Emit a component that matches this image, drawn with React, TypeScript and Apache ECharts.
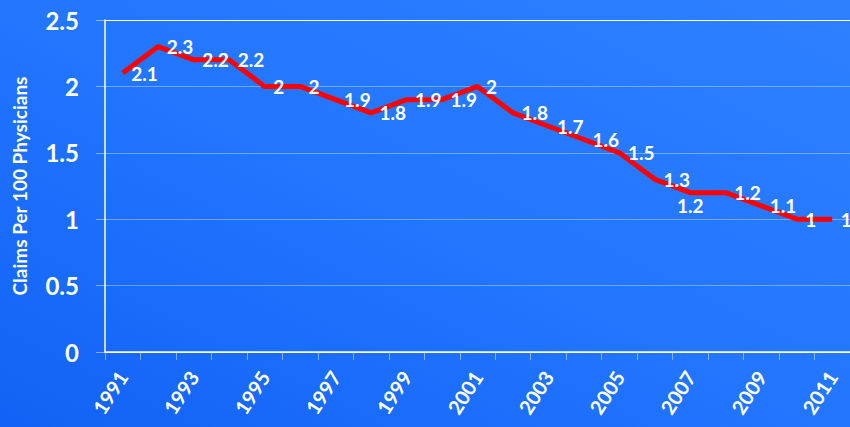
import React, { useEffect, useRef } from "react";
import * as echarts from "echarts";

const years: string[] = [
  "1991", "1992", "1993", "1994", "1995", "1996", "1997", "1998", "1999", "2000",
  "2001", "2002", "2003", "2004", "2005", "2006", "2007", "2008", "2009", "2010", "2011",
];
const claims: number[] = [
  2.1, 2.3, 2.2, 2.2, 2.0, 2.0, 1.9, 1.8, 1.9, 1.9,
  2.0, 1.8, 1.7, 1.6, 1.5, 1.3, 1.2, 1.2, 1.1, 1.0, 1.0,
];
const yAxisTitle = "Claims Per 100 Physicians";

const FONT = "Lato, 'DejaVu Sans', sans-serif";

export default function App() {
  const ref = useRef<HTMLDivElement>(null);
  useEffect(() => {
    if (!ref.current) return;
    const chart = echarts.init(ref.current, null, { renderer: "svg" });
    const data = claims.map((v, i) => {
      if (years[i] === "2007") {
        return { value: v, label: { position: "bottom", distance: 3, offset: [10, 0] } };
      }
      return v;
    });
    chart.setOption({
      animation: false,
      backgroundColor: new echarts.graphic.LinearGradient(0, 1, 1, 0, [
        { offset: 0, color: "#1262f5" },
        { offset: 0.5, color: "#2276ff" },
        { offset: 1, color: "#2e80ff" },
      ]),
      grid: { left: 105, top: 20, bottom: 75, right: -5, containLabel: false },
      xAxis: {
        type: "category",
        data: years,
        boundaryGap: true,
        axisLine: { show: true, lineStyle: { color: "#ffffff", width: 1.5 } },
        axisTick: {
          show: true,
          length: 8,
          alignWithLabel: false,
          interval: 0,
          lineStyle: { color: "rgba(255,255,255,0.45)" },
        },
        axisLabel: {
          interval: 1,
          rotate: 57,
          color: "#ffffff",
          fontFamily: FONT,
          fontWeight: "bold",
          fontSize: 20,
          margin: 21,
        },
      },
      yAxis: {
        type: "value",
        min: 0,
        max: 2.5,
        interval: 0.5,
        name: yAxisTitle,
        nameLocation: "middle",
        nameGap: 76,
        nameTextStyle: {
          color: "#ffffff",
          fontFamily: FONT,
          fontWeight: "bold",
          fontSize: 19,
        },
        axisLine: { show: true, lineStyle: { color: "#ffffff", width: 1.5 } },
        axisTick: { show: true, length: 9, lineStyle: { color: "rgba(255,255,255,0.45)" } },
        axisLabel: {
          color: "#ffffff",
          fontFamily: FONT,
          fontWeight: "bold",
          fontSize: 24,
          margin: 26,
        },
        splitLine: {
          show: true,
          lineStyle: {
            color: [
              "#ffffff",
              "rgba(255,255,255,0.35)",
              "rgba(255,255,255,0.35)",
              "rgba(255,255,255,0.35)",
              "rgba(255,255,255,0.35)",
              "#ffffff",
            ],
            width: 1,
          },
        },
      },
      series: [
        {
          type: "line",
          data,
          symbol: "circle",
          symbolSize: 1,
          showSymbol: true,
          showAllSymbol: true,
          itemStyle: { color: "rgba(255,0,0,0)" },
          lineStyle: { color: "#ff0000", width: 5 },
          labelLayout: { hideOverlap: false },
          label: {
            show: true,
            position: "right",
            distance: 8,
            offset: [0, 1],
            color: "#ffffff",
            fontFamily: FONT,
            fontWeight: "bold",
            fontSize: 19,
          },
          z: 3,
        },
      ],
    });
    return () => chart.dispose();
  }, []);
  return (
    <div
      ref={ref}
      style={{ position: "absolute", left: 0, top: 0, width: 850, height: 427 }}
    />
  );
}
